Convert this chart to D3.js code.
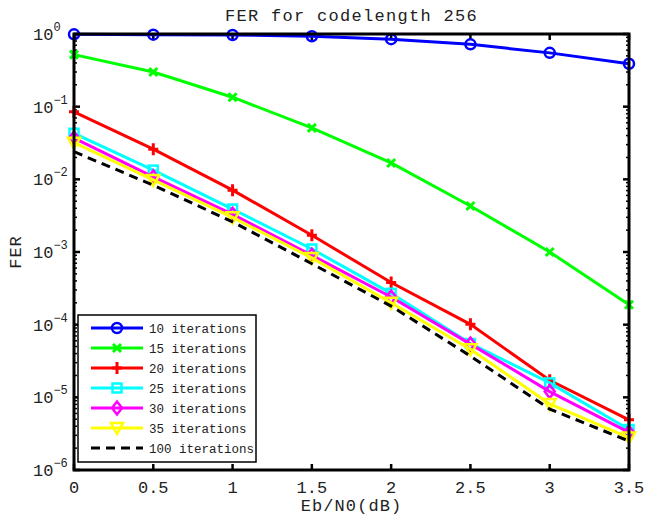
<!DOCTYPE html>
<html>
<head>
<meta charset="utf-8">
<script src="https://cdn.jsdelivr.net/npm/d3@7"></script>
<style>
  body { margin: 0; background: #fff; }
  text { font-family: "Liberation Mono", "Courier New", monospace; fill: #222; }
</style>
</head>
<body>
<div id="chart"></div>
<script>
// Eb/N0 values (dB)
var ebno = [0, 0.5, 1, 1.5, 2, 2.5, 3, 3.5];

// FER per number of decoder iterations
var fer10  = [0.99, 0.98, 0.97, 0.93, 0.85, 0.72, 0.55, 0.39];
var fer15  = [0.52, 0.30, 0.135, 0.051, 0.0168, 0.0043, 0.0010, 0.000188];
var fer20  = [0.085, 0.026, 0.0071, 0.0017, 0.00038, 0.000101, 0.0000172, 0.0000049];
var fer25  = [0.043, 0.0134, 0.0039, 0.0011, 0.00027, 0.000055, 0.0000158, 0.0000036];
var fer30  = [0.037, 0.0108, 0.0033, 0.00090, 0.00024, 0.000054, 0.0000120, 0.0000033];
var fer35  = [0.032, 0.0098, 0.0030, 0.00083, 0.00020, 0.000046, 0.0000081, 0.0000028];
var fer100 = [0.024, 0.0083, 0.0026, 0.00069, 0.00018, 0.000037, 0.0000069, 0.0000025];

var seriesNames = ["10 iterations", "15 iterations", "20 iterations", "25 iterations",
                   "30 iterations", "35 iterations", "100 iterations"];
var seriesColors = ["#0000ff", "#00ff00", "#ff0000", "#00ffff", "#ff00ff", "#ffff00", "#000000"];
var seriesMarkers = ["circle", "x", "plus", "square", "diamond", "triangle", "none"];
var seriesValues = [fer10, fer15, fer20, fer25, fer30, fer35, fer100];

var xTicks = [0, 0.5, 1, 1.5, 2, 2.5, 3, 3.5];
var yDecades = [0, -1, -2, -3, -4, -5, -6];

var
    width = 648,
    height = 515,
    margin = {left: 74, right: 19, top: 34, bottom: 45};

var svg = d3.select("#chart").append("svg")
    .attr("width", width)
    .attr("height", height);

var x = d3.scaleLinear().domain([0, 3.5]).range([margin.left, width - margin.right]);
var y = d3.scaleLog().domain([1e-6, 1]).range([height - margin.bottom, margin.top]);

var x0 = x.range()[0], x1 = x.range()[1], yb = y.range()[0], yt = y.range()[1];

// minor ticks (log) on left and right
var minor = [];
yDecades.slice(1).forEach(function(p){
    for (var k = 2; k <= 9; k++) minor.push(k * Math.pow(10, p));
});
var ticksG = svg.append("g").attr("stroke", "#000").attr("stroke-width", 1.5);
ticksG.selectAll(".ml").data(minor).enter().append("line")
    .attr("x1", x0).attr("x2", x0 + 3)
    .attr("y1", function(d){ return y(d); }).attr("y2", function(d){ return y(d); });
ticksG.selectAll(".mr").data(minor).enter().append("line")
    .attr("x1", x1).attr("x2", x1 - 3)
    .attr("y1", function(d){ return y(d); }).attr("y2", function(d){ return y(d); });

// major ticks
ticksG.selectAll(".yl").data(yDecades).enter().append("line")
    .attr("stroke-width", 2.5)
    .attr("x1", x0).attr("x2", x0 + 6)
    .attr("y1", function(d){ return y(Math.pow(10, d)); }).attr("y2", function(d){ return y(Math.pow(10, d)); });
ticksG.selectAll(".yr").data(yDecades).enter().append("line")
    .attr("stroke-width", 2.5)
    .attr("x1", x1).attr("x2", x1 - 6)
    .attr("y1", function(d){ return y(Math.pow(10, d)); }).attr("y2", function(d){ return y(Math.pow(10, d)); });
ticksG.selectAll(".xb").data(xTicks).enter().append("line")
    .attr("stroke-width", 2.5)
    .attr("y1", yb).attr("y2", yb - 6)
    .attr("x1", function(d){ return x(d); }).attr("x2", function(d){ return x(d); });
ticksG.selectAll(".xt").data(xTicks).enter().append("line")
    .attr("stroke-width", 2.5)
    .attr("y1", yt).attr("y2", yt + 6)
    .attr("x1", function(d){ return x(d); }).attr("x2", function(d){ return x(d); });

// series lines
var line = d3.line()
    .x(function(d){ return x(d[0]); })
    .y(function(d){ return y(d[1]); });

var plotG = svg.append("g");

function drawMarker(g, type, color, cx, cy) {
    var s = 5;
    if (type === "circle") {
        g.append("circle").attr("cx", cx).attr("cy", cy).attr("r", s)
            .attr("fill", "none").attr("stroke", color).attr("stroke-width", 2.5);
    } else if (type === "x") {
        g.append("path").attr("d", "M" + (cx - 4) + "," + (cy - 4) + "L" + (cx + 4) + "," + (cy + 4) +
            "M" + (cx - 4) + "," + (cy + 4) + "L" + (cx + 4) + "," + (cy - 4))
            .attr("stroke", color).attr("stroke-width", 3);
    } else if (type === "plus") {
        g.append("path").attr("d", "M" + (cx - 5) + "," + cy + "L" + (cx + 5) + "," + cy +
            "M" + cx + "," + (cy - 6) + "L" + cx + "," + (cy + 6))
            .attr("stroke", color).attr("stroke-width", 3);
    } else if (type === "square") {
        g.append("rect").attr("x", cx - 4.5).attr("y", cy - 4.5).attr("width", 9).attr("height", 9)
            .attr("fill", "none").attr("stroke", color).attr("stroke-width", 2.5);
    } else if (type === "diamond") {
        g.append("path").attr("d", "M" + cx + "," + (cy - 6.5) + "L" + (cx + 5) + "," + cy +
            "L" + cx + "," + (cy + 6.5) + "L" + (cx - 5) + "," + cy + "Z")
            .attr("fill", "none").attr("stroke", color).attr("stroke-width", 2.5);
    } else if (type === "triangle") {
        g.append("path").attr("d", "M" + (cx - 6) + "," + (cy - 5) + "L" + (cx + 6) + "," + (cy - 5) +
            "L" + cx + "," + (cy + 6) + "Z")
            .attr("fill", "none").attr("stroke", color).attr("stroke-width", 2.5);
    }
}

seriesValues.forEach(function(vals, i){
    var pts = ebno.map(function(e, j){ return [e, vals[j]]; });
    var path = plotG.append("path")
        .datum(pts)
        .attr("d", line)
        .attr("fill", "none")
        .attr("stroke", seriesColors[i])
        .attr("stroke-width", 3);
    if (seriesMarkers[i] === "none") path.attr("stroke-dasharray", "9,6");
    pts.forEach(function(p){
        drawMarker(plotG, seriesMarkers[i], seriesColors[i], x(p[0]), y(p[1]));
    });
});

// axes box
svg.append("rect")
    .attr("x", x0).attr("y", yt)
    .attr("width", x1 - x0).attr("height", yb - yt)
    .attr("fill", "none").attr("stroke", "#000").attr("stroke-width", 3);

// tick labels
svg.selectAll(".xlab").data(xTicks).enter().append("text")
    .attr("x", function(d){ return x(d); })
    .attr("y", yb + 23)
    .attr("text-anchor", "middle")
    .attr("font-size", 17)
    .text(function(d){ return d3.format("")(d); });

var ylab = svg.selectAll(".ylab").data(yDecades).enter().append("text")
    .attr("x", x0 - 41)
    .attr("y", function(d){ return y(Math.pow(10, d)) + 6; })
    .attr("font-size", 17);
ylab.append("tspan").text("10");
ylab.append("tspan").attr("dy", -9).attr("font-size", 12)
    .text(function(d){ return d === 0 ? "0" : "\u2212" + (-d); });

// title and axis labels
svg.append("text").attr("x", (x0 + x1) / 2).attr("y", 21)
    .attr("text-anchor", "middle").attr("font-size", 17)
    .attr("letter-spacing", 1.3)
    .text("FER for codelength 256");
svg.append("text").attr("x", (x0 + x1) / 2).attr("y", 511)
    .attr("text-anchor", "middle").attr("font-size", 17)
    .attr("letter-spacing", 1.1)
    .text("Eb/N0(dB)");
svg.append("text")
    .attr("transform", "translate(21," + ((yt + yb) / 2) + ") rotate(-90)")
    .attr("text-anchor", "middle").attr("font-size", 17)
    .attr("letter-spacing", 1)
    .text("FER");

// legend
var leg = svg.append("g");
leg.append("rect")
    .attr("x", 78).attr("y", 315).attr("width", 178).attr("height", 147)
    .attr("fill", "#fff").attr("stroke", "#000").attr("stroke-width", 1.5);

seriesNames.forEach(function(name, i){
    var ly = 328 + i * 20;
    var l = leg.append("line")
        .attr("x1", 91).attr("x2", 143).attr("y1", ly).attr("y2", ly)
        .attr("stroke", seriesColors[i]).attr("stroke-width", 3);
    if (seriesMarkers[i] === "none") l.attr("stroke-dasharray", "9,6");
    drawMarker(leg, seriesMarkers[i], seriesColors[i], 117, ly);
    leg.append("text").attr("x", 149).attr("y", ly + 4.5)
        .attr("font-size", 12.5)
        .text(name);
});
</script>
</body>
</html>
